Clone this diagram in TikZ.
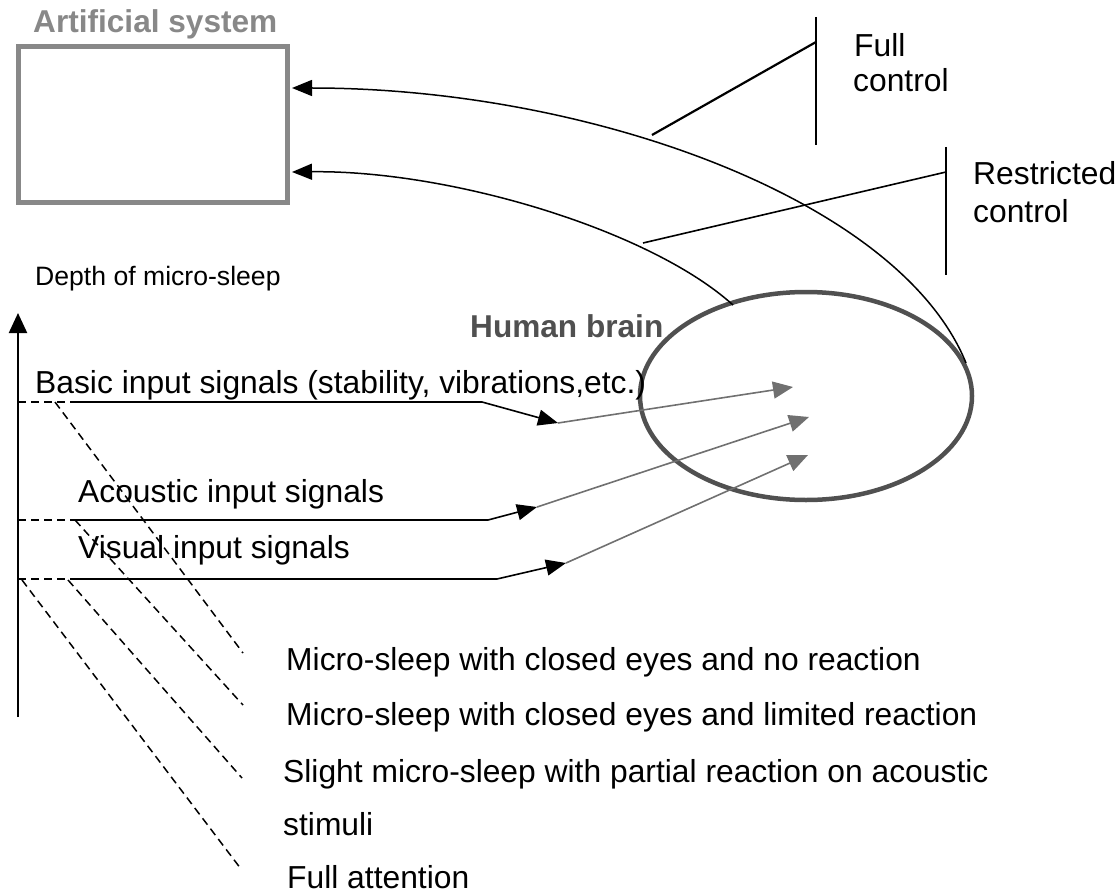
\documentclass[tikz,border=0pt]{standalone}
\usepackage{fontspec}
\setmainfont{Liberation Sans}
\usetikzlibrary{arrows.meta,shapes.geometric,calc}
\definecolor{boxgray}{HTML}{888888}
\definecolor{braingray}{HTML}{505050}
\definecolor{arrgray}{HTML}{707070}
\tikzset{
  lbl/.style={anchor=base west,inner sep=0pt,font=\fontsize{31.8}{36}\selectfont},
  smalllbl/.style={anchor=base west,inner sep=0pt,font=\fontsize{26.6}{30}\selectfont},
  head/.style={anchor=base west,inner sep=0pt,font=\bfseries\fontsize{31.6}{36}\selectfont},
  blk/.style={-{Triangle[length=20pt,width=16pt]},line width=1.6pt},
  gry/.style={arrgray,-{Triangle[length=20pt,width=17pt]},line width=1.6pt},
  dsh/.style={dash pattern=on 8pt off 5pt,line width=1.5pt},
  hline/.style={line width=1.8pt},
}
\begin{document}
\begin{tikzpicture}[x=1pt,y=-1pt]
\useasboundingbox (0,0) rectangle (1118,896);
% artificial system
\node[head,text=boxgray] (ashead) at (33,33) {Artificial system};
\node[draw=boxgray,line width=5pt,minimum width=269pt,minimum height=156pt,inner sep=0pt] (box) at (153,124.5) {};
% human brain
\node[draw=braingray,line width=4.5pt,ellipse,minimum width=332pt,minimum height=208pt,inner sep=0pt] (brain) at (806,396) {};
\node[head,text=braingray] (bhead) at (470,337) {Human brain};
% control curves
\coordinate (ub) at (966,363);
\coordinate (lb) at (733,305);
\coordinate (ua) at ($(box.east)+(2,-36.5)$);
\coordinate (la) at ($(box.east)+(2,47.5)$);
\draw[blk,line width=1.5pt] (ub) .. controls (900,200) and (590,88) .. (ua);
\draw[blk,line width=1.5pt] (lb) .. controls (650,230) and (450,170) .. (la);
% full control
\coordinate (fcs) at (652,135);
\coordinate (fct) at (816,17);
\coordinate (fcm) at (816,42);
\coordinate (fcb) at (816,145);
\draw[line width=2.4pt] (fct) -- (fcb);
\draw[line width=2.2pt] (fcs) -- (fcm);
\node[lbl] (fc1) at (854,57) {Full};
\node[lbl] (fc2) at (853,92) {control};
% restricted control
\coordinate (rcs) at (643,243);
\coordinate (rct) at (946,147);
\coordinate (rcm) at (946,172);
\coordinate (rcb) at (946,275);
\draw[line width=1.8pt] (rct) -- (rcb);
\draw[line width=1.6pt] (rcs) -- (rcm);
\node[lbl] (rc1) at (973,185) {Restricted};
\node[lbl] (rc2) at (973,222) {control};
% axis
\node[smalllbl] (depth) at (35,285) {Depth of micro-sleep};
\coordinate (axb) at (18,717);
\coordinate (axt) at (18,313);
\draw[line width=2.2pt,-{Triangle[length=20pt,width=18pt]}] (axb) -- (axt);
% basic input
\coordinate (b0) at (18,402);
\coordinate (b1) at (72,402);
\coordinate (b2) at (482,402);
\coordinate (b3) at (558,423);
\coordinate (b4) at (793,387);
\draw[dsh] (b0) -- (b1);
\draw[hline] (b1) -- (b2);
\draw[blk] (b2) -- (b3);
\draw[gry] (b3) -- (b4);
\node[lbl] (basic) at (35,393) {Basic input signals (stability, vibrations,etc.)};
% acoustic input
\coordinate (a0) at (18,520);
\coordinate (a1) at (72,520);
\coordinate (a2) at (488,520);
\coordinate (a3) at (537,507);
\coordinate (a4) at (809,417);
\draw[dsh] (a0) -- (a1);
\draw[hline] (a1) -- (a2);
\draw[blk] (a2) -- (a3);
\draw[gry] (a3) -- (a4);
\node[lbl] (acoustic) at (78,502) {Acoustic input signals};
% visual input
\coordinate (v0) at (18,579);
\coordinate (v1) at (72,579);
\coordinate (v2) at (497,579);
\coordinate (v3) at (566,563);
\coordinate (v4) at (808,455);
\draw[dsh] (v0) -- (v1);
\draw[hline] (v1) -- (v2);
\draw[blk] (v2) -- (v3);
\draw[gry] (v3) -- (v4);
\node[lbl] (visual) at (78,558) {Visual input signals};
% dashed diagonals
\coordinate (d1s) at (55,402);
\coordinate (d1e) at (243,653);
\coordinate (d2s) at (75,520);
\coordinate (d2e) at (243,705);
\coordinate (d3s) at (68,580);
\coordinate (d3e) at (242,778);
\coordinate (d4s) at (22,580);
\coordinate (d4e) at (241,869);
\draw[dsh] (d1s) -- (d1e);
\draw[dsh] (d2s) -- (d2e);
\draw[dsh] (d3s) -- (d3e);
\draw[dsh] (d4s) -- (d4e);
% bottom labels
\node[lbl] (m1) at (286,670) {Micro-sleep with closed eyes and no reaction};
\node[lbl] (m2) at (286,725) {Micro-sleep with closed eyes and limited reaction};
\node[lbl] (m3) at (283,782) {Slight micro-sleep with partial reaction on acoustic};
\node[lbl] (m3b) at (283,835) {stimuli};
\node[lbl] (m4) at (287,888) {Full attention};
\end{tikzpicture}
\end{document}
